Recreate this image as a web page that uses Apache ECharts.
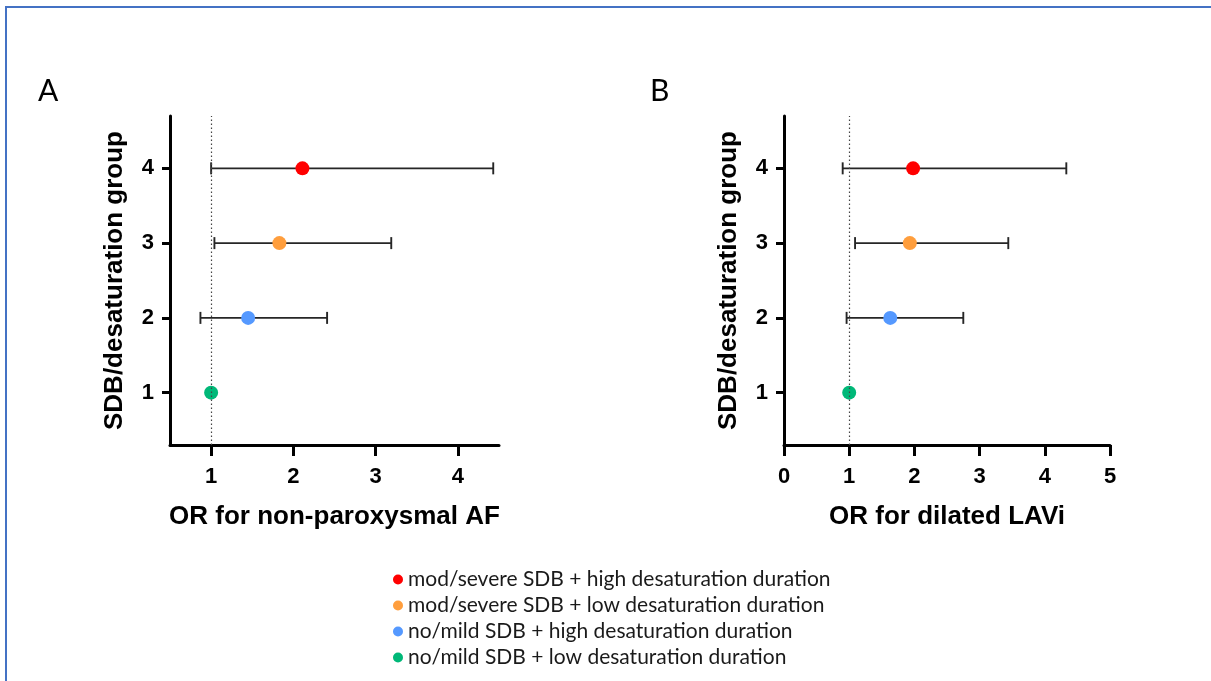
<!DOCTYPE html>
<html>
<head>
<meta charset="utf-8">
<script src="https://cdn.jsdelivr.net/npm/echarts@6/dist/echarts.min.js"></script>
<style>
  html, body { margin: 0; padding: 0; background: #fff; }
  #chart { width: 1211px; height: 681px; }
</style>
</head>
<body>
<div id="chart"></div>
<script>
// groups on the y axis, 1 = reference
const groups = [1, 2, 3, 4]
const groupNames = [
  'no/mild SDB + low desaturation duration',
  'no/mild SDB + high desaturation duration',
  'mod/severe SDB + low desaturation duration',
  'mod/severe SDB + high desaturation duration',
]
const groupColors = ['#00b878', '#5599ff', '#ff9e3d', '#ff0000']

// panel A: OR for non-paroxysmal AF
const orA = [1.0, 1.45, 1.83, 2.11]
const loA = [null, 0.87, 1.04, 1.0]
const hiA = [null, 2.41, 3.19, 4.43]

// panel B: OR for dilated LAVi
const orB = [1.0, 1.63, 1.93, 1.98]
const loB = [null, 0.96, 1.09, 0.9]
const hiB = [null, 2.75, 3.44, 4.33]

const ticksA = [1, 2, 3, 4]
const groupTicks = [1, 2, 3, 4]

const chart = echarts.init(document.getElementById('chart'))

const axisFont = { color: '#000', fontFamily: 'Liberation Sans, Arial', fontWeight: 'bold', fontSize: 22 }
const nameFont = { color: '#000', fontFamily: 'Liberation Sans, Arial', fontWeight: 'bold', fontSize: 26 }

function xAxisFor(idx, name, min, max, custom) {
  const ax = {
    type: 'value', gridIndex: idx, min, max,
    name, nameLocation: 'middle', nameGap: 59, nameTextStyle: nameFont,
    axisLine: { show: true, lineStyle: { color: '#000', width: 3 } },
    axisTick: { show: true, length: 11, lineStyle: { color: '#000', width: 3 } },
    axisLabel: { ...axisFont, margin: 21 },
    splitLine: { show: false },
  }
  if (custom) {
    ax.axisTick.customValues = custom
    ax.axisLabel.customValues = custom
  } else {
    ax.interval = 1
  }
  return ax
}

function yAxisFor(idx) {
  return {
    type: 'value', gridIndex: idx, min: 0.3, max: 4.7,
    name: 'SDB/desaturation group', nameLocation: 'middle', nameGap: 42, nameTextStyle: nameFont,
    axisLine: { show: true, lineStyle: { color: '#000', width: 3 } },
    axisTick: { show: true, length: 8, customValues: groupTicks, lineStyle: { color: '#000', width: 3 } },
    axisLabel: { ...axisFont, margin: 16, customValues: groupTicks },
    splitLine: { show: false },
  }
}

function errorBars(idx, lo, hi) {
  const data = groups.map((g, i) => [lo[i], hi[i], g]).filter(d => d[0] != null)
  return {
    type: 'custom', xAxisIndex: idx, yAxisIndex: idx, silent: true, z: 2,
    data,
    renderItem(params, api) {
      const a = api.coord([api.value(0), api.value(2)])
      const b = api.coord([api.value(1), api.value(2)])
      const h = 6
      const style = { stroke: '#262626', lineWidth: 1.9 }
      return {
        type: 'group',
        children: [
          { type: 'line', shape: { x1: a[0], y1: a[1], x2: b[0], y2: b[1] }, style },
          { type: 'line', shape: { x1: a[0], y1: a[1] - h, x2: a[0], y2: a[1] + h }, style },
          { type: 'line', shape: { x1: b[0], y1: b[1] - h, x2: b[0], y2: b[1] + h }, style },
        ],
      }
    },
    markLine: {
      silent: true, symbol: 'none', label: { show: false },
      lineStyle: { color: '#444', type: [1.5, 2.5], width: 1.2 },
      data: [{ xAxis: 1 }],
    },
  }
}

function points(idx, vals) {
  return groups.map((g, i) => ({
    type: 'scatter', name: groupNames[i], xAxisIndex: idx, yAxisIndex: idx, z: 3,
    symbolSize: 14, itemStyle: { color: groupColors[i], opacity: 1 },
    data: [[vals[i], g]],
  }))
}

chart.setOption({
  animation: false,
  grid: [
    { left: 170, top: 116, width: 329, height: 329 },
    { left: 784, top: 116, width: 326, height: 329 },
  ],
  xAxis: [
    xAxisFor(0, 'OR for non-paroxysmal AF', 0.5, 4.5, ticksA),
    xAxisFor(1, 'OR for dilated LAVi', 0, 5, null),
  ],
  yAxis: [yAxisFor(0), yAxisFor(1)],
  legend: {
    orient: 'vertical', left: 388, top: 564, itemGap: 5,
    icon: 'circle', itemWidth: 10, itemHeight: 10,
    data: groupNames.slice().reverse(),
    textStyle: { color: '#1a1a1a', fontFamily: 'Lato', fontSize: 21 },
    selectedMode: false,
  },
  graphic: [
    { type: 'rect', shape: { x: 6, y: 7, width: 1250, height: 720 }, style: { fill: 'none', stroke: '#4472c4', lineWidth: 2 } },
    { type: 'text', left: 38, top: 76, style: { text: 'A', font: '30px Lato', fill: '#000' } },
    { type: 'text', left: 650, top: 76, style: { text: 'B', font: '30px Lato', fill: '#000' } },
  ],
  series: [
    errorBars(0, loA, hiA),
    errorBars(1, loB, hiB),
    ...points(0, orA),
    ...points(1, orB),
  ],
})
</script>
</body>
</html>
